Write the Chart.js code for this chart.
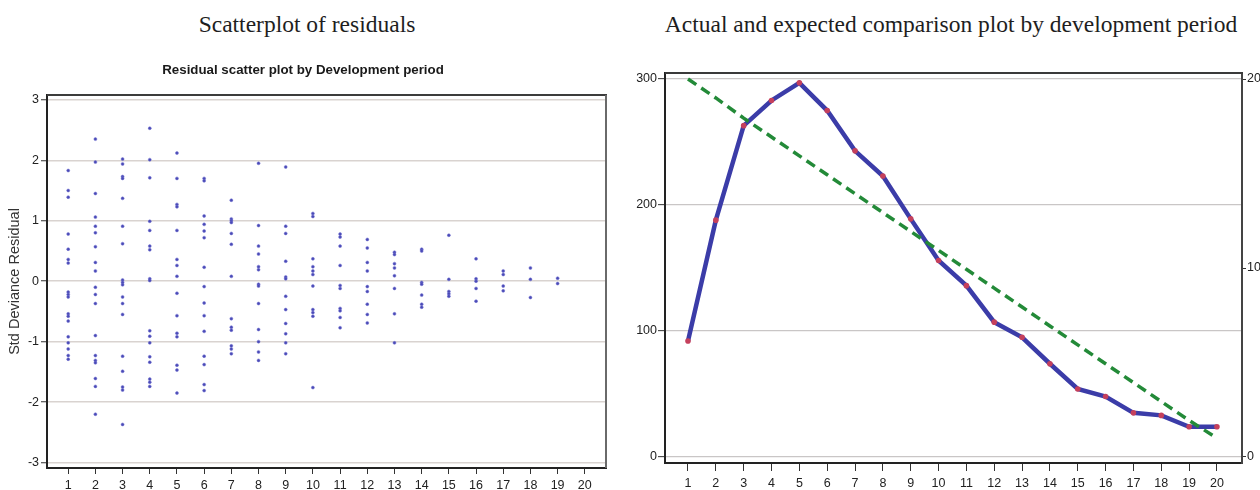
<!DOCTYPE html>
<html>
<head>
<meta charset="utf-8">
<script src="https://cdn.jsdelivr.net/npm/chart.js@4.4.1/dist/chart.umd.min.js"></script>
<style>
  html, body { margin: 0; padding: 0; background: #fff; width: 1260px; height: 490px; overflow: hidden; }
  .panel-title {
    position: absolute; top: 13px;
    font-family: 'Liberation Serif', 'Times New Roman', serif;
    font-size: 23.5px; line-height: 23.5px; color: #1e1e1e;
    white-space: nowrap; transform: translateX(-50%);
  }
  canvas { position: absolute; top: 0; }
</style>
</head>
<body>
<div class="panel-title" style="left:307px">Scatterplot of residuals</div>
<div class="panel-title" style="left:951px">Actual and expected comparison plot by development period</div>
<canvas id="residuals" width="620" height="490" style="left:0"></canvas>
<canvas id="comparison" width="640" height="490" style="left:620px"></canvas>
<script>
// Development periods shared by both panels
const periods = [1, 2, 3, 4, 5, 6, 7, 8, 9, 10, 11, 12, 13, 14, 15, 16, 17, 18, 19, 20];

// Standardised deviance residuals, one list per development period
const residualsByPeriod = [
  [1.83, 1.50, 1.39, 0.78, 0.53, 0.36, 0.30, -0.18, -0.22, -0.26, -0.54, -0.58, -0.66, -0.92, -1.02, -1.12, -1.23, -1.29],
  [2.35, 1.97, 1.45, 1.06, 0.91, 0.80, 0.57, 0.31, 0.17, -0.10, -0.22, -0.37, -0.90, -1.23, -1.31, -1.35, -1.61, -1.74, -2.20],
  [2.02, 1.94, 1.73, 1.70, 1.37, 0.91, 0.62, 0.02, -0.02, -0.06, -0.26, -0.37, -0.55, -1.24, -1.49, -1.75, -1.80, -2.37],
  [2.53, 2.01, 1.71, 0.99, 0.84, 0.58, 0.52, 0.04, 0.01, -0.82, -0.91, -1.02, -1.25, -1.34, -1.62, -1.67, -1.74],
  [2.12, 1.70, 1.27, 1.23, 0.84, 0.36, 0.26, 0.08, -0.20, -0.57, -0.86, -0.92, -1.39, -1.47, -1.85],
  [1.70, 1.66, 1.08, 0.94, 0.83, 0.72, 0.23, -0.09, -0.36, -0.57, -0.83, -1.24, -1.38, -1.71, -1.81],
  [1.34, 1.03, 1.00, 0.97, 0.79, 0.61, 0.08, -0.62, -0.76, -0.81, -1.07, -1.12, -1.20],
  [1.95, 0.92, 0.58, 0.45, 0.24, 0.19, -0.05, -0.08, -0.37, -0.80, -1.00, -1.17, -1.31],
  [1.89, 0.91, 0.79, 0.33, 0.07, 0.04, -0.25, -0.47, -0.70, -0.87, -1.02, -1.20],
  [1.12, 1.07, 0.37, 0.24, 0.17, 0.11, -0.08, -0.47, -0.52, -0.58, -1.76],
  [0.78, 0.73, 0.58, 0.26, -0.07, -0.12, -0.45, -0.49, -0.60, -0.77],
  [0.69, 0.55, 0.31, 0.17, -0.09, -0.17, -0.38, -0.55, -0.69],
  [0.48, 0.44, 0.29, 0.22, 0.09, -0.12, -0.54, -1.02],
  [0.53, 0.50, -0.02, -0.05, -0.23, -0.38, -0.43],
  [0.76, 0.03, -0.17, -0.21, -0.25],
  [0.37, 0.04, 0.00, -0.12, -0.33],
  [0.17, 0.11, -0.08, -0.16],
  [0.22, 0.03, -0.27],
  [0.05, -0.04],
  []
];
const residualTicks = [-3, -2, -1, 0, 1, 2, 3];

// Actual vs expected incremental amounts by development period
const actual   = [92, 188, 263, 283, 297, 275, 243, 223, 189, 156, 136, 107, 95, 74, 54, 48, 35, 33, 24, 24];
const expected = [300, 285, 269, 254, 239, 224, 209, 194, 179, 164, 149, 134, 119, 104, 89, 74, 59, 44, 29, 15];
const amountTicks = [0, 100, 200, 300];
const secondaryTicks = [0, 10, 20];

const SANS = "'Liberation Sans', Arial, sans-serif";

// Draws the closing top / right edges of the plot frame
const framePlugin = {
  id: 'frame',
  afterDatasetsDraw(chart, args, opts) {
    const { ctx, chartArea: a } = chart;
    ctx.save();
    if (opts.top) {
      ctx.strokeStyle = opts.top.color;
      ctx.lineWidth = opts.top.width;
      ctx.beginPath();
      ctx.moveTo(a.left, a.top);
      ctx.lineTo(a.right + 1, a.top);
      ctx.stroke();
    }
    if (opts.right) {
      ctx.strokeStyle = opts.right.color;
      ctx.lineWidth = opts.right.width;
      ctx.beginPath();
      ctx.moveTo(a.right, a.top);
      ctx.lineTo(a.right, a.bottom);
      ctx.stroke();
    }
    ctx.restore();
  }
};

const fixedTicks = values => scale => { scale.ticks = values.map(v => ({ value: v })); };
const tickFont = { family: SANS, size: 12.5 };

// Left panel: residual scatter
const residualPoints = periods.flatMap((p, i) => residualsByPeriod[i].map(v => ({ x: p, y: v })));

new Chart(document.getElementById('residuals'), {
  type: 'scatter',
  data: {
    datasets: [{
      data: residualPoints,
      pointRadius: 1.5,
      pointHoverRadius: 1.5,
      pointBackgroundColor: '#4a4ab6',
      pointBorderColor: '#7070d0',
      pointBorderWidth: 0.5
    }]
  },
  options: {
    responsive: false,
    animation: false,
    events: [],
    layout: { padding: { top: 0, right: 14, bottom: 0, left: 0 } },
    plugins: {
      legend: { display: false },
      tooltip: { enabled: false },
      title: {
        display: true,
        text: 'Residual scatter plot by Development period',
        font: { family: SANS, size: 13.3, weight: 'bold' },
        color: '#1a1a1a',
        padding: { top: 62, bottom: 17 }
      },
      frame: { top: { color: '#3c3c3c', width: 2 }, right: { color: '#6a6a6a', width: 2 } }
    },
    scales: {
      x: {
        type: 'linear',
        min: 0.22, max: 20.78,
        afterBuildTicks: fixedTicks(periods),
        afterFit: s => { s.height = 22; },
        grid: { drawOnChartArea: false, drawTicks: true, tickLength: 6, tickColor: '#333', tickWidth: 1 },
        border: { color: '#222', width: 2 },
        ticks: { font: tickFont, color: '#222', padding: 4, autoSkip: false, maxRotation: 0 }
      },
      y: {
        min: -3.09, max: 3.08,
        afterBuildTicks: fixedTicks(residualTicks),
        afterFit: s => { s.width = 47; },
        grid: { color: '#d9d3d0', lineWidth: 1.5, tickColor: '#333', tickWidth: 1, tickLength: 6 },
        border: { color: '#222', width: 2 },
        ticks: { font: tickFont, color: '#222', padding: 2 },
        title: {
          display: true,
          text: 'Std Deviance Residual',
          font: { family: SANS, size: 14.5 },
          color: '#333',
          padding: { top: 6, bottom: 0 }
        }
      }
    }
  },
  plugins: [framePlugin]
});

// Right panel: actual vs expected lines
new Chart(document.getElementById('comparison'), {
  type: 'line',
  data: {
    datasets: [
      {
        label: 'Expected',
        data: periods.map((p, i) => ({ x: p, y: expected[i] })),
        borderColor: '#238a38',
        borderWidth: 3.5,
        borderDash: [10, 6],
        pointRadius: 0,
        tension: 0,
        order: 0
      },
      {
        label: 'Actual',
        data: periods.map((p, i) => ({ x: p, y: actual[i] })),
        borderColor: '#3b3ca8',
        borderWidth: 4.5,
        pointRadius: 2.8,
        pointBackgroundColor: '#c5405c',
        pointBorderWidth: 0,
        tension: 0,
        order: 1
      }
    ]
  },
  options: {
    responsive: false,
    animation: false,
    events: [],
    layout: { padding: { top: 73, right: 0, bottom: 0, left: 0 } },
    plugins: {
      legend: { display: false },
      tooltip: { enabled: false },
      frame: { top: { color: '#3a3a3a', width: 2 } }
    },
    scales: {
      x: {
        type: 'linear',
        min: 0.174, max: 20.9,
        afterBuildTicks: fixedTicks(periods),
        afterFit: s => { s.height = 27; },
        grid: { drawOnChartArea: false, drawTicks: true, tickLength: 8, tickColor: '#333', tickWidth: 1 },
        border: { color: '#222', width: 2 },
        ticks: { font: tickFont, color: '#222', padding: 5, autoSkip: false, maxRotation: 0 }
      },
      y: {
        position: 'left',
        min: -4.8, max: 304.8,
        afterBuildTicks: fixedTicks(amountTicks),
        afterFit: s => { s.width = 45; },
        grid: { color: '#c9c6c6', lineWidth: 1.3, tickColor: '#333', tickWidth: 1, tickLength: 7 },
        border: { color: '#222', width: 2 },
        ticks: { font: tickFont, color: '#222', padding: 1 }
      },
      y2: {
        position: 'right',
        min: -0.32, max: 20.32,
        afterBuildTicks: fixedTicks(secondaryTicks),
        afterFit: s => { s.width = 18; },
        grid: { drawOnChartArea: false, drawTicks: true, tickLength: 4, tickColor: '#333', tickWidth: 1 },
        border: { color: '#444', width: 2 },
        ticks: { font: tickFont, color: '#222', padding: 1 }
      }
    }
  },
  plugins: [framePlugin]
});
</script>
</body>
</html>
